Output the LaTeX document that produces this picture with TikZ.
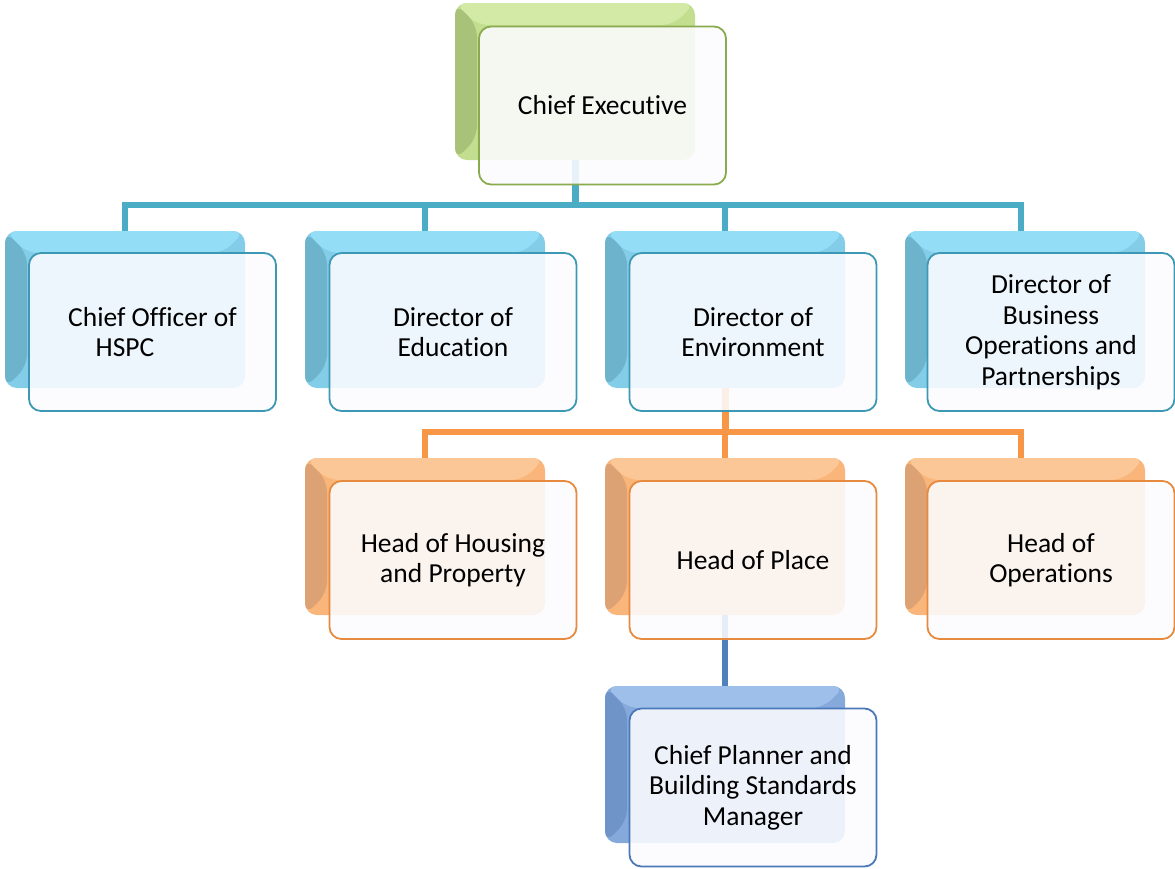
\documentclass[tikz,border=0pt]{standalone}
\usepackage{fontspec}
\setmainfont[Ligatures={TeX,NoCommon}]{Carlito}
\definecolor{gMid}{HTML}{C3DE8F}\definecolor{gTop}{HTML}{D3EAA6}\definecolor{gLeft}{HTML}{A9C27A}\definecolor{gLine}{HTML}{8AAA4E}
\definecolor{tMid}{HTML}{84CDE8}\definecolor{tTop}{HTML}{94DDF6}\definecolor{tLeft}{HTML}{6DB3CB}\definecolor{tLine}{HTML}{3C98B4}
\definecolor{oMid}{HTML}{F9B57A}\definecolor{oTop}{HTML}{FCC796}\definecolor{oLeft}{HTML}{DDA273}\definecolor{oLine}{HTML}{E58A3E}
\definecolor{bMid}{HTML}{86A9DC}\definecolor{bTop}{HTML}{9DBFEA}\definecolor{bLeft}{HTML}{6F95C8}\definecolor{bLine}{HTML}{4A78B8}
\definecolor{tConn}{HTML}{4BACC6}\definecolor{oConn}{HTML}{F79646}\definecolor{bConn}{HTML}{4F81BD}
\definecolor{frontFill}{HTML}{FCFCFF}
\tikzset{
  backbox/.style n args={3}{rounded corners=12pt, minimum width=240pt, minimum height=157pt,
    inner sep=0pt, fill=#1,
    path picture={
      \fill[#2] (path picture bounding box.north west) -- (path picture bounding box.north east)
        -- ([shift={(-22,22)}]path picture bounding box.north east)
        -- ([shift={(22,22)}]path picture bounding box.north west) -- cycle;
      \fill[#3] (path picture bounding box.north west) -- ([shift={(22,22)}]path picture bounding box.north west)
        -- ([shift={(22,-22)}]path picture bounding box.south west)
        -- (path picture bounding box.south west) -- cycle;
    }},
  frontbox/.style={rounded corners=12pt, minimum width=247pt, minimum height=158pt,
    inner sep=0pt, fill=frontFill, fill opacity=0.88, text opacity=1, line width=1.8pt,
    draw=#1, align=center, font=\fontsize{27.5}{30.5}\selectfont},
  conn/.style={line width=#1, line join=miter},
}
\begin{document}
\begin{tikzpicture}[x=1pt,y=-1pt]
\useasboundingbox (0,0) rectangle (1175,868);
% back boxes
\node[backbox={gMid}{gTop}{gLeft}] (ceB) at (575,81.5) {};
\node[backbox={tMid}{tTop}{tLeft}] (hspcB) at (125,309.5) {};
\node[backbox={tMid}{tTop}{tLeft}] (eduB) at (425,309.5) {};
\node[backbox={tMid}{tTop}{tLeft}] (envB) at (725,309.5) {};
\node[backbox={tMid}{tTop}{tLeft}] (bizB) at (1025,309.5) {};
\node[backbox={oMid}{oTop}{oLeft}] (housB) at (425,536.5) {};
\node[backbox={oMid}{oTop}{oLeft}] (placeB) at (725,536.5) {};
\node[backbox={oMid}{oTop}{oLeft}] (opsB) at (1025,536.5) {};
\node[backbox={bMid}{bTop}{bLeft}] (planB) at (725,764.5) {};
% connector junctions
\coordinate (bar1) at (575,205);
\coordinate (bar2) at (725,432);
\coordinate (bizTop) at (1021,231);
\coordinate (opsTop) at (1021,458);
% connectors level 1
\draw[conn=7pt, tConn] (ceB.south) -- (ceB.south |- bar1);
\draw[conn=5.5pt, tConn] (hspcB.north) |- (bizTop |- bar1) -- (bizTop);
\draw[conn=5.5pt, tConn] (eduB.north) -- (eduB.north |- bar1);
\draw[conn=5.5pt, tConn] (envB.north) -- (envB.north |- bar1);
% connectors level 2
\draw[conn=7pt, oConn] (envB.south) -- (bar2);
\draw[conn=5.5pt, oConn] (housB.north) |- (opsTop |- bar2) -- (opsTop);
\draw[conn=5.5pt, oConn] (placeB.north) -- (placeB.north |- bar2);
% connector level 3
\draw[conn=6pt, bConn] (placeB.south) -- (planB.north);
% front boxes
\node[frontbox=gLine] (ce) at (602.5,105.5) {Chief Executive};
\node[frontbox=tLine] (hspc) at (152.5,332) {Chief Officer of\\HSPC\hspace*{55pt}};
\node[frontbox=tLine] (edu) at (453,332) {Director of\\Education};
\node[frontbox=tLine] (env) at (753,332) {Director of\\Environment};
\node[frontbox=tLine] (biz) at (1051,332) {Director of\\Business\\Operations and\\Partnerships};
\node[frontbox=oLine] (hous) at (453,560) {Head of Housing\\and Property};
\node[frontbox=oLine] (place) at (753,560) {Head of Place};
\node[frontbox=oLine] (ops) at (1051,560) {Head of\\Operations};
\node[frontbox=bLine] (plan) at (753,787.5) {Chief Planner and\\Building Standards\\Manager};
\end{tikzpicture}
\end{document}
